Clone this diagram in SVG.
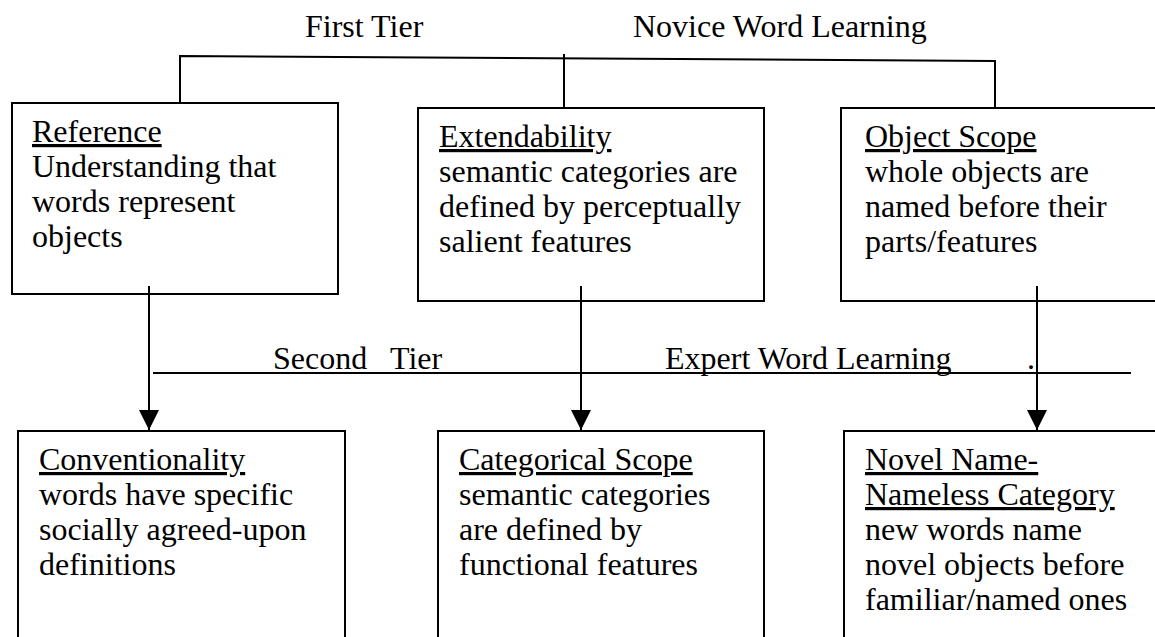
<svg xmlns="http://www.w3.org/2000/svg" width="1155" height="637" viewBox="0 0 1155 637">
<style>
  text { font-family: "Liberation Serif", "Times New Roman", serif; font-size: 32px; fill: #000; }
  .box { fill: #fff; stroke: #000; stroke-width: 2; }
  .ln { stroke: #000; stroke-width: 2; fill: none; }
  .u { text-decoration: underline; }
</style>
<defs>
  <marker id="arrow" markerUnits="userSpaceOnUse" markerWidth="20" markerHeight="20" refX="20" refY="10" orient="auto">
    <path d="M0,0 L20,10 L0,20 Z" fill="#000"/>
  </marker>
</defs>
<rect width="1155" height="637" fill="#fff"/>

<g id="labels">
  <text x="305" y="37">First Tier</text>
  <text x="633" y="37">Novice Word Learning</text>
  <text x="273" y="369">Second <tspan x="390">Tier</tspan></text>
  <text x="665" y="369">Expert Word Learning</text>
  <text x="1027" y="369">.</text>
</g>

<g id="reference">
  <rect class="box" x="12" y="103" width="326" height="191"/>
  <text x="32" y="142"><tspan class="u">Reference</tspan></text>
  <text x="32" y="177">Understanding that</text>
  <text x="32" y="212">words represent</text>
  <text x="32" y="247">objects</text>
</g>

<g id="extendability">
  <rect class="box" x="418" y="108" width="346" height="193"/>
  <text x="439" y="147"><tspan class="u">Extendability</tspan></text>
  <text x="439" y="182">semantic categories are</text>
  <text x="439" y="217">defined by perceptually</text>
  <text x="439" y="252">salient features</text>
</g>

<g id="objectscope">
  <rect class="box" x="841" y="108" width="330" height="193"/>
  <text x="865" y="147"><tspan class="u">Object Scope</tspan></text>
  <text x="865" y="182">whole objects are</text>
  <text x="865" y="217">named before their</text>
  <text x="865" y="252">parts/features</text>
</g>

<g id="conventionality">
  <rect class="box" x="18" y="431" width="327" height="230"/>
  <text x="39" y="470"><tspan class="u">Conventionality</tspan></text>
  <text x="39" y="505">words have specific</text>
  <text x="39" y="540">socially agreed-upon</text>
  <text x="39" y="575">definitions</text>
</g>

<g id="categoricalscope">
  <rect class="box" x="438" y="431" width="326" height="230"/>
  <text x="459" y="470"><tspan class="u">Categorical Scope</tspan></text>
  <text x="459" y="505">semantic categories</text>
  <text x="459" y="540">are defined by</text>
  <text x="459" y="575">functional features</text>
</g>

<g id="novelname">
  <rect class="box" x="844" y="431" width="330" height="230"/>
  <text x="865" y="470"><tspan class="u">Novel Name-</tspan></text>
  <text x="865" y="505"><tspan class="u">Nameless Category</tspan></text>
  <text x="865" y="540">new words name</text>
  <text x="865" y="575">novel objects before</text>
  <text x="865" y="610">familiar/named ones</text>
</g>

<g id="connectors">
  <path class="ln" d="M180,103 L180,56 L995,61 L995,108"/>
  <line class="ln" x1="564" y1="54" x2="564" y2="108"/>
  <line class="ln" x1="153" y1="373" x2="1131" y2="373"/>
  <line class="ln" x1="149" y1="286" x2="149" y2="430" marker-end="url(#arrow)"/>
  <line class="ln" x1="581" y1="286" x2="581" y2="430" marker-end="url(#arrow)"/>
  <line class="ln" x1="1037" y1="286" x2="1037" y2="430" marker-end="url(#arrow)"/>
</g>
</svg>
